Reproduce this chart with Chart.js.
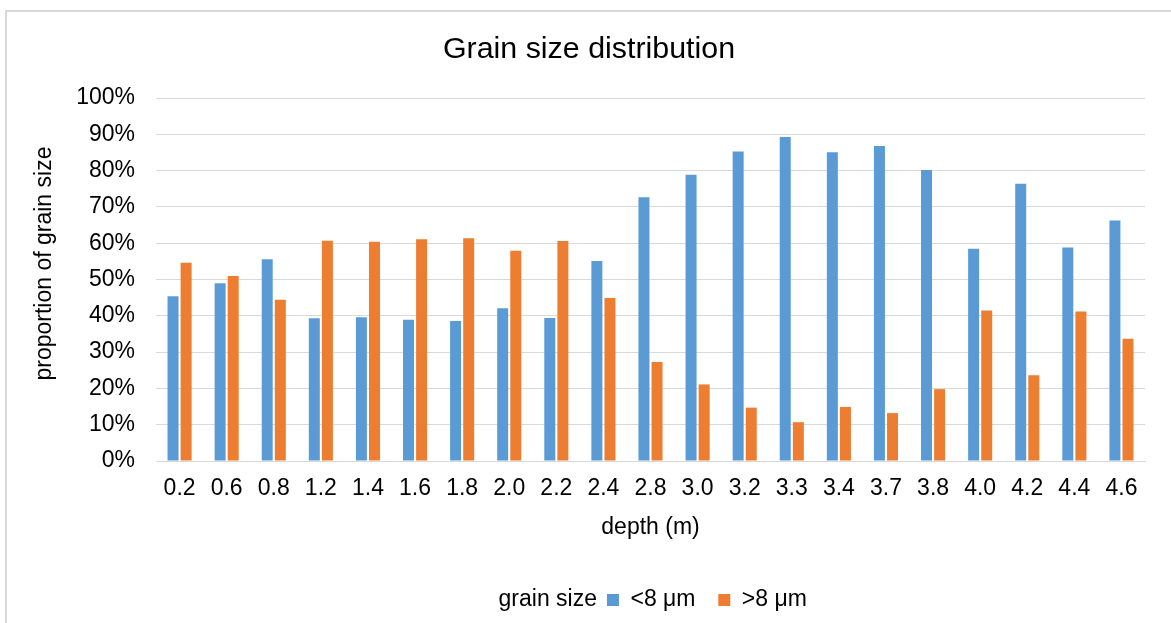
<!DOCTYPE html>
<html><head><meta charset="utf-8">
<script src="https://cdn.jsdelivr.net/npm/chart.js@4"></script>
<style>
html,body{margin:0;padding:0;background:#fff;overflow:hidden;width:1171px;height:623px;}
#frame{position:absolute;left:5px;top:10px;width:1220px;height:700px;border:2px solid #d9d9d9;box-sizing:border-box;}
#wrap{position:absolute;left:33px;top:0;width:1138px;height:623px;}
</style></head>
<body><div id="frame"></div><div id="wrap"><canvas id="c" width="1138" height="623"></canvas></div>
<script>
const depths = ['0.2','0.6','0.8','1.2','1.4','1.6','1.8','2.0','2.2','2.4','2.8','3.0','3.2','3.3','3.4','3.7','3.8','4.0','4.2','4.4','4.6'];
const fine   = [45.4, 49.0, 55.6, 39.3, 39.6, 38.9, 38.6, 42.1, 39.4, 55.1, 72.7, 78.9, 85.3, 89.3, 85.1, 86.8, 80.2, 58.5, 76.4, 58.8, 66.3];
const coarse = [54.6, 51.0, 44.4, 60.7, 60.4, 61.1, 61.4, 57.9, 60.6, 44.9, 27.3, 21.1, 14.7, 10.7, 14.9, 13.2, 19.8, 41.5, 23.6, 41.2, 33.7];
const seriesNames = ['<8 μm', '>8 μm'];
const legendTitle = 'grain size';
const yTicks = [0,10,20,30,40,50,60,70,80,90,100];

const FONT = "'Liberation Sans', Arial, sans-serif";
const BLUE = '#5B9BD5', ORANGE = '#ED7D31', GRID = '#d9d9d9';

new Chart(document.getElementById('c'), {
  type: 'bar',
  data: {
    labels: depths,
    datasets: [
      { label: seriesNames[0], data: fine, backgroundColor: BLUE, borderWidth: 0 },
      { label: seriesNames[1], data: coarse, backgroundColor: ORANGE, borderWidth: 0 }
    ]
  },
  options: {
    responsive: false,
    animation: false,
    devicePixelRatio: 1,
    categoryPercentage: 0.556,
    barPercentage: 0.84,
    layout: { padding: { left: 0, right: 26, top: 0, bottom: 1.5 } },
    plugins: {
      title: {
        display: true, text: 'Grain size distribution', color: '#000',
        font: { family: FONT, size: 30.4, weight: 'normal' },
        padding: { top: 31.5, bottom: 30.1 }
      },
      legend: {
        position: 'bottom', fullSize: false,
        labels: {
          color: '#000', boxWidth: 12, boxHeight: 12, padding: 10,
          font: { family: FONT, size: 23 },
          generateLabels: (chart) => {
            const items = [{ text: legendTitle, fillStyle: 'rgba(0,0,0,0)', strokeStyle: 'rgba(0,0,0,0)', lineWidth: 0, hidden: false, fontColor: '#000' }];
            chart.data.datasets.forEach((ds, i) => {
              items.push({ text: ds.label + (i === 0 ? '  ' : '   '), fillStyle: ds.backgroundColor, strokeStyle: ds.backgroundColor, lineWidth: 0, hidden: false, datasetIndex: i, fontColor: '#000' });
            });
            return items;
          }
        }
      },
      tooltip: { enabled: false }
    },
    scales: {
      x: {
        grid: { display: false, drawTicks: false },
        border: { display: true, color: GRID, width: 1 },
        ticks: { color: '#000', font: { family: FONT, size: 23 }, padding: 14.2, maxRotation: 0, autoSkip: false },
        title: { display: true, text: 'depth (m)', color: '#000', font: { family: FONT, size: 23 }, padding: { top: -2.8, bottom: 36.7 } }
      },
      y: {
        min: 0, max: 100,
        afterBuildTicks: (s) => { s.ticks = yTicks.map(v => ({ value: v })); },
        grid: { color: GRID, lineWidth: 1, drawTicks: false },
        border: { display: false },
        ticks: { color: '#000', font: { family: FONT, size: 23 }, padding: 21, callback: (v) => v + '%' },
        title: { display: true, text: '     proportion of grain size', color: '#000', font: { family: FONT, size: 23 }, padding: { top: -1.8, bottom: -3.6 } }
      }
    }
  }
});
</script>
</body></html>
